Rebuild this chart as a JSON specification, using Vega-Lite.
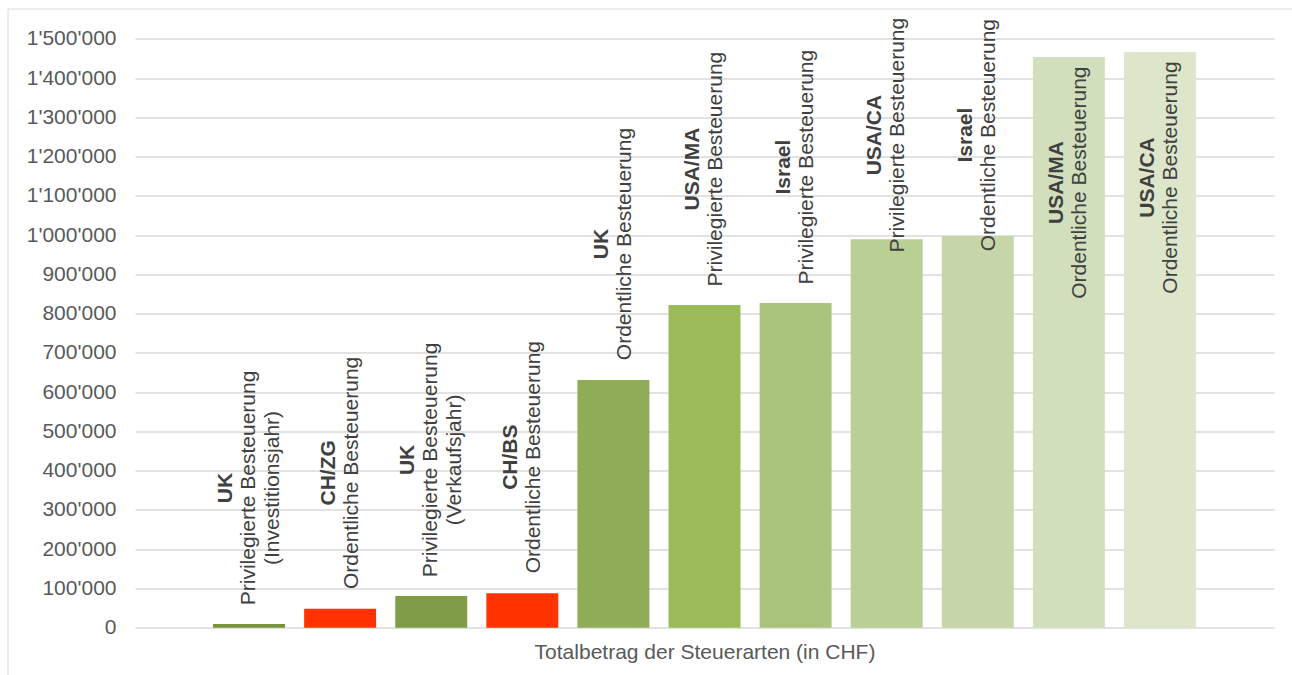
{
  "$schema": "https://vega.github.io/schema/vega-lite/v6.json",
  "width": 1284.5,
  "height": 666.5,
  "autosize": {"type": "none"},
  "padding": {"left": 7.5, "top": 8.5, "right": 0, "bottom": 0},
  "background": "white",
  "config": {
    "font": "Liberation Sans",
    "view": {"stroke": "#d9d9d9", "strokeWidth": 1}
  },
  "data": {
    "values": [
      {"nr": 1, "land": "UK", "art": "Privilegierte Besteuerung", "zusatz": "(Investitionsjahr)", "betrag": 9500},
      {"nr": 2, "land": "CH/ZG", "art": "Ordentliche Besteuerung", "zusatz": null, "betrag": 48000},
      {"nr": 3, "land": "UK", "art": "Privilegierte Besteuerung", "zusatz": "(Verkaufsjahr)", "betrag": 81000},
      {"nr": 4, "land": "CH/BS", "art": "Ordentliche Besteuerung", "zusatz": null, "betrag": 88000},
      {"nr": 5, "land": "UK", "art": "Ordentliche Besteuerung", "zusatz": null, "betrag": 631000},
      {"nr": 6, "land": "USA/MA", "art": "Privilegierte Besteuerung", "zusatz": null, "betrag": 822000},
      {"nr": 7, "land": "Israel", "art": "Privilegierte Besteuerung", "zusatz": null, "betrag": 827000},
      {"nr": 8, "land": "USA/CA", "art": "Privilegierte Besteuerung", "zusatz": null, "betrag": 990000},
      {"nr": 9, "land": "Israel", "art": "Ordentliche Besteuerung", "zusatz": null, "betrag": 998000},
      {"nr": 10, "land": "USA/MA", "art": "Ordentliche Besteuerung", "zusatz": null, "betrag": 1454000},
      {"nr": 11, "land": "USA/CA", "art": "Ordentliche Besteuerung", "zusatz": null, "betrag": 1467000}
    ]
  },
  "transform": [
    {
      "calculate": "datum.betrag > 1200000 ? datum.betrag - 320000 : min(datum.betrag + 346500, 1255000)",
      "as": "labelAt"
    }
  ],
  "encoding": {
    "x": {
      "field": "nr",
      "type": "ordinal",
      "scale": {"range": [127.5, 1266.5], "paddingInner": 0.21, "paddingOuter": 0.857},
      "axis": {
        "orient": "bottom",
        "offset": -47.3,
        "labels": false,
        "ticks": false,
        "domain": false,
        "grid": false,
        "title": "Totalbetrag der Steuerarten (in CHF)",
        "titleFont": "Liberation Sans",
        "titleFontSize": 21,
        "titleFontWeight": "normal",
        "titleColor": "#595959",
        "titlePadding": 14
      }
    }
  },
  "layer": [
    {
      "mark": {"type": "bar"},
      "encoding": {
        "y": {
          "field": "betrag",
          "type": "quantitative",
          "scale": {"domain": [-120500, 1577600], "nice": false, "zero": false},
          "axis": {
            "orient": "left",
            "offset": -127,
            "values": [0, 100000, 200000, 300000, 400000, 500000, 600000, 700000, 800000, 900000, 1000000, 1100000, 1200000, 1300000, 1400000, 1500000],
            "labelExpr": "replace(replace(format(datum.value, ','), ',', \"'\"), ',', \"'\")",
            "labelFont": "Liberation Sans",
            "labelFontSize": 21,
            "labelColor": "#595959",
            "labelPadding": 18.5,
            "ticks": false,
            "tickSize": 0,
            "domain": false,
            "grid": true,
            "gridColor": "#d9d9d9",
            "gridWidth": 1.3,
            "title": null
          }
        },
        "color": {
          "field": "nr",
          "type": "ordinal",
          "legend": null,
          "scale": {
            "domain": [1, 2, 3, 4, 5, 6, 7, 8, 9, 10, 11],
            "range": ["#77933c", "#ff3300", "#7f9c46", "#ff3300", "#8fac56", "#9bbb59", "#aac47e", "#b9cf94", "#c6d6a9", "#d1dfbc", "#dde6ca"]
          }
        }
      }
    },
    {
      "mark": {
        "type": "text",
        "angle": 270,
        "align": "center",
        "baseline": "middle",
        "font": "Liberation Sans",
        "fontSize": 21,
        "fontWeight": "bold",
        "color": "#404040",
        "dy": {"expr": "isValid(datum.zusatz) ? -23.5 : -11.5"}
      },
      "encoding": {
        "y": {"field": "labelAt", "type": "quantitative"},
        "text": {"field": "land"}
      }
    },
    {
      "mark": {
        "type": "text",
        "angle": 270,
        "align": "center",
        "baseline": "middle",
        "font": "Liberation Sans",
        "fontSize": 21,
        "color": "#404040",
        "dy": {"expr": "isValid(datum.zusatz) ? 0 : 11.5"}
      },
      "encoding": {
        "y": {"field": "labelAt", "type": "quantitative"},
        "text": {"field": "art"}
      }
    },
    {
      "transform": [{"filter": "isValid(datum.zusatz)"}],
      "mark": {
        "type": "text",
        "angle": 270,
        "align": "center",
        "baseline": "middle",
        "font": "Liberation Sans",
        "fontSize": 21,
        "color": "#404040",
        "dy": 23.5
      },
      "encoding": {
        "y": {"field": "labelAt", "type": "quantitative"},
        "text": {"field": "zusatz"}
      }
    }
  ]
}
